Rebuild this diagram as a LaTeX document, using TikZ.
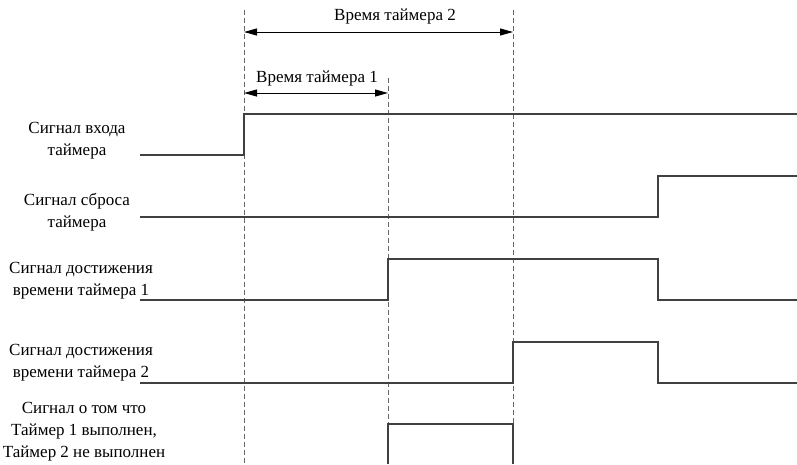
\documentclass[tikz,border=0pt]{standalone}
\usepackage{fontspec}
\setmainfont{Liberation Serif}
\usetikzlibrary{positioning,arrows.meta}

\begin{document}
\begin{tikzpicture}[x=1pt, y=-1pt,
  sig/.style={draw=black!75, line width=1.1pt},
  guide/.style={draw=black!60, line width=0.9pt, dash pattern=on 5pt off 3pt},
  dim/.style={{Triangle[length=13pt,width=7pt]}-{Triangle[length=13pt,width=7pt]}, line width=1pt},
  lbl/.style={font=\fontsize{17}{22}\selectfont, align=center, inner sep=0pt},
]
  \useasboundingbox (0,0) rectangle (797,464);

  \coordinate (start) at (244,10);
  \coordinate (end1) at (388,78);
  \coordinate (end2) at (513,10);
  \coordinate (startb) at (244,464);
  \coordinate (end1b) at (388,464);
  \coordinate (end2b) at (513,464);

  \draw[guide] (start) -- (startb);
  \draw[guide] (end1) -- (end1b);
  \draw[guide] (end2) -- (end2b);

  \draw[dim] (start |- 0,32) -- (end2 |- 0,32);
  \draw[dim] (start |- 0,93) -- (end1 |- 0,93);
  \node[lbl] (dur2) at (395,16) {Время таймера 2};
  \node[lbl] (dur1) at (317,78) {Время таймера 1};

  \node[lbl] (inlbl) at (77,141) {Сигнал входа\\таймера};
  \node[lbl] (rstlbl) at (77,212) {Сигнал сброса\\таймера};
  \node[lbl] (t1lbl) at (81,281) {Сигнал достижения\\времени таймера 1};
  \node[lbl] (t2lbl) at (81,363) {Сигнал достижения\\времени таймера 2};
  \node[lbl] (donelbl) at (84,432) {Сигнал о том что\\Таймер 1 выполнен,\\Таймер 2 не выполнен};

  \draw[sig] (140,155) -- (244,155) -- (244,114) -- (797,114);
  \draw[sig] (140,217) -- (658,217) -- (658,176) -- (797,176);
  \draw[sig] (140,300) -- (388,300) -- (388,259) -- (658,259) -- (658,300) -- (797,300);
  \draw[sig] (140,383) -- (513,383) -- (513,342) -- (658,342) -- (658,383) -- (797,383);
  \draw[sig] (388,464) -- (388,424) -- (513,424) -- (513,464);
\end{tikzpicture}
\end{document}
